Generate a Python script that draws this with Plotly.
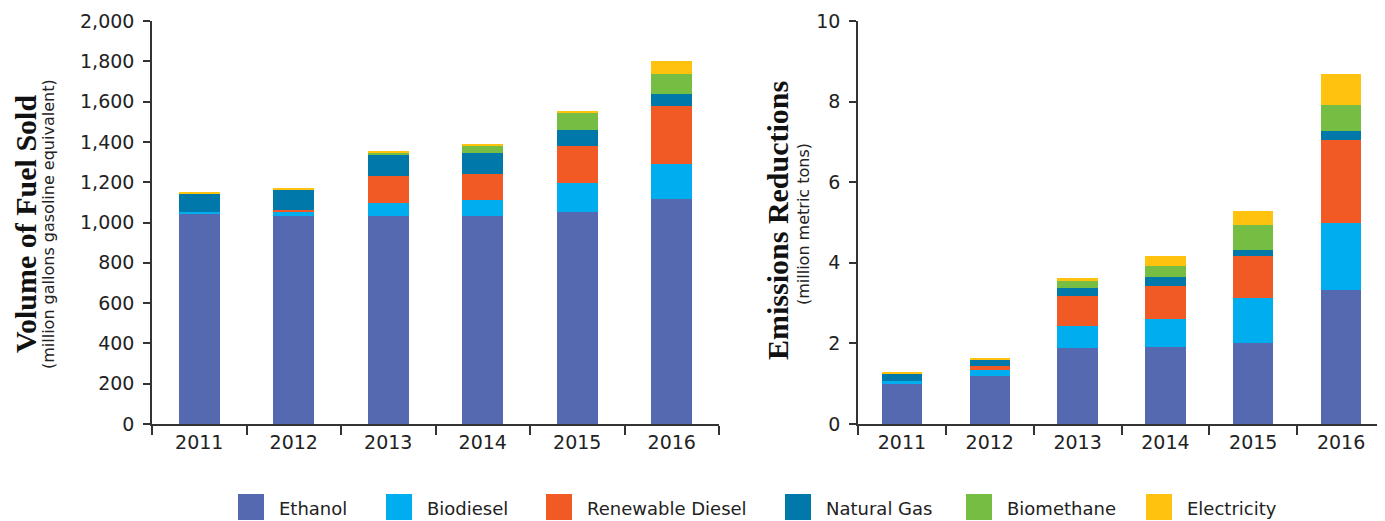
import plotly.graph_objects as go

years = ["2011", "2012", "2013", "2014", "2015", "2016"]
fuels = ["Ethanol", "Biodiesel", "Renewable Diesel", "Natural Gas", "Biomethane", "Electricity"]
colors = ["#5569B0", "#00AEEF", "#F15A24", "#0079AA", "#76BE43", "#FFC20E"]

# Volume of fuel sold (million gallons gasoline equivalent)
vol_ethanol = [1041, 1031, 1031, 1031, 1051, 1116]
vol_biodiesel = [10, 20, 65, 81, 144, 173]
vol_renewable_diesel = [0, 10, 134, 128, 184, 288]
vol_natural_gas = [89, 99, 104, 104, 79, 59]
vol_biomethane = [0, 0, 10, 35, 84, 100]
vol_electricity = [10, 10, 10, 10, 10, 65]

# Emissions reductions (million metric tons)
em_ethanol = [0.99, 1.20, 1.88, 1.90, 2.00, 3.32]
em_biodiesel = [0.07, 0.13, 0.54, 0.70, 1.12, 1.68]
em_renewable_diesel = [0.00, 0.10, 0.75, 0.83, 1.04, 2.05]
em_natural_gas = [0.19, 0.17, 0.21, 0.23, 0.17, 0.21]
em_biomethane = [0.00, 0.00, 0.16, 0.27, 0.60, 0.66]
em_electricity = [0.05, 0.05, 0.09, 0.25, 0.36, 0.77]

vol_series = [vol_ethanol, vol_biodiesel, vol_renewable_diesel, vol_natural_gas, vol_biomethane, vol_electricity]
em_series = [em_ethanol, em_biodiesel, em_renewable_diesel, em_natural_gas, em_biomethane, em_electricity]

OFF = 8  # page body margin offset
W, H = 1385 - OFF, 521 - OFF
MT, MB = 21 - OFF, 97
PH = H - MT - MB

SANS = "DejaVu Sans, sans-serif"
SERIF = "Liberation Serif, serif"

fig = go.Figure()
for name, col, v in zip(fuels, colors, vol_series):
    fig.add_trace(go.Bar(x=years, y=v, name=name, marker=dict(color=col, line=dict(width=0)),
                         width=0.43, xaxis="x", yaxis="y", showlegend=False))
for name, col, v in zip(fuels, colors, em_series):
    fig.add_trace(go.Bar(x=years, y=v, name=name, marker=dict(color=col, line=dict(width=0)),
                         width=0.46, xaxis="x2", yaxis="y2", showlegend=False))

tickfont = dict(family=SANS, size=19, color="#222")
axcommon = dict(showline=True, linecolor="#333", linewidth=1.5, ticks="outside",
                tickcolor="#333", tickwidth=1.5, showgrid=False, zeroline=False, tickfont=tickfont)


def px(x):
    return (x - OFF) / W


def py(y):
    return (H - MB - (y - OFF)) / PH


fig.update_layout(
    barmode="stack",
    width=W, height=H,
    margin=dict(l=0, r=0, t=MT, b=MB),
    plot_bgcolor="white", paper_bgcolor="white",
    xaxis=dict(domain=[px(152), px(719)], tickson="boundaries", ticklen=9, anchor="y", **axcommon),
    yaxis=dict(range=[0, 2000], dtick=200, tickformat=",", ticklen=7, ticklabelstandoff=5, anchor="x", **axcommon),
    xaxis2=dict(domain=[px(858), 1.0], tickson="boundaries", ticklen=9, anchor="y2", **axcommon),
    yaxis2=dict(range=[0, 10], dtick=2, ticklen=7, ticklabelstandoff=5, anchor="x2", **axcommon),
    showlegend=False,
)

ann = []
# y-axis titles
ann.append(dict(text="<b>Volume of Fuel Sold</b>", x=px(25), y=py(224), xref="paper", yref="paper",
                textangle=-90, showarrow=False, xanchor="center", yanchor="middle",
                font=dict(family=SERIF, size=30, color="#111")))
ann.append(dict(text="(million gallons gasoline equivalent)", x=px(48), y=py(224), xref="paper", yref="paper",
                textangle=-90, showarrow=False, xanchor="center", yanchor="middle",
                font=dict(family=SANS, size=16, color="#222")))
ann.append(dict(text="<b>Emissions Reductions</b>", x=px(777), y=py(220), xref="paper", yref="paper",
                textangle=-90, showarrow=False, xanchor="center", yanchor="middle",
                font=dict(family=SERIF, size=30, color="#111")))
ann.append(dict(text="(million metric tons)", x=px(803), y=py(224), xref="paper", yref="paper",
                textangle=-90, showarrow=False, xanchor="center", yanchor="middle",
                font=dict(family=SANS, size=16, color="#222")))

# manual legend
sw_x = [238, 386, 546, 785, 966, 1146]
shapes = []
for name, col, x0 in zip(fuels, colors, sw_x):
    shapes.append(dict(type="rect", xref="paper", yref="paper", x0=px(x0), x1=px(x0 + 26),
                       y0=py(520), y1=py(494), fillcolor=col, line=dict(width=0)))
    ann.append(dict(text=name, x=px(x0 + 39), y=py(508), xref="paper", yref="paper",
                    showarrow=False, xanchor="left", yanchor="middle",
                    font=dict(family=SANS, size=18, color="#222")))

fig.update_layout(annotations=ann, shapes=shapes)
fig.write_html("out.html")
